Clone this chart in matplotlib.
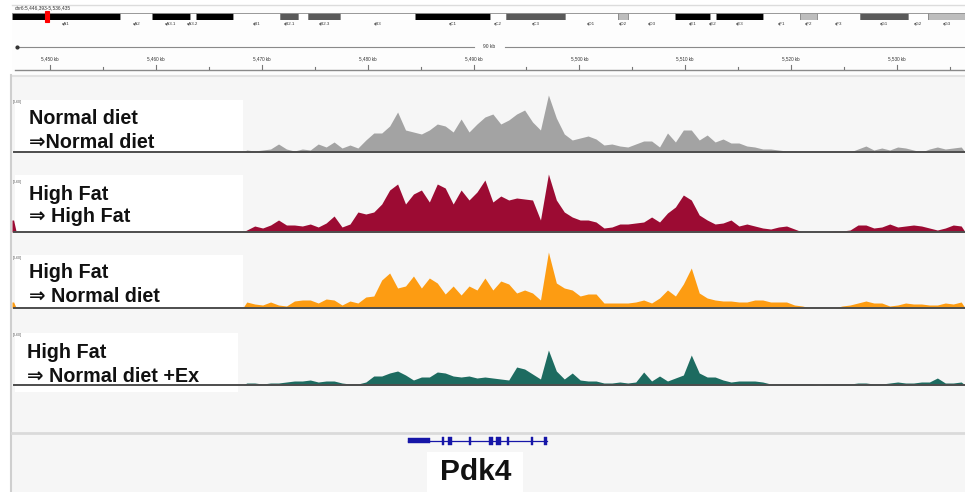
import numpy as np
import matplotlib
matplotlib.use("Agg")
import matplotlib.pyplot as plt
from matplotlib.patches import Rectangle

plt.rcParams['font.family'] = ['Liberation Sans', 'DejaVu Sans']

W, H = 965, 492

# locus on chr6 (kb) and chromosome length (Mb)
chrom = "chr6"
view_start = 5446.393
view_end = 5536.435
chrom_len = 149.6

# ideogram bands: name, start (Mb), end (Mb), stain
band_names = ["qA1", "qA2", "qA3.1", "qA3.2", "", "qB1", "qB2.1", "", "qB2.3", "qB3",
              "qC1", "qC2", "qC3", "qD1", "qD2", "qD3", "qE1", "qE2", "qE3", "qF1",
              "qF2", "qF3", "qG1", "qG2", "qG3"]
band_starts = [0.0, 17.0, 22.0, 27.9, 28.9, 34.7, 42.1, 44.9, 46.5, 51.5,
               63.3, 75.0, 77.6, 86.8, 95.1, 96.7, 104.1, 109.6, 110.5, 117.9,
               123.7, 126.4, 133.1, 140.7, 143.8]
band_ends = band_starts[1:] + [chrom_len]
band_stains = ["gpos100", "gneg", "gpos100", "gneg", "gpos100", "gneg", "gpos75", "gneg", "gpos75", "gneg",
               "gpos100", "gneg", "gpos75", "gneg", "gpos33", "gneg", "gpos100", "gneg", "gpos100", "gneg",
               "gpos33", "gneg", "gpos75", "gneg", "gpos33"]

# coverage bins (kb)
bin_start = 5468.2
bin_size = 0.75

normal_normal = [2, 1, 2, 3, 8, 3, 1, 3, 2, 8,
                 5, 10, 4, 7, 4, 12, 19, 19, 26, 40,
                 22, 20, 18, 22, 28, 26, 20, 33, 20, 28,
                 35, 38, 28, 32, 38, 42, 30, 22, 57, 34,
                 18, 12, 14, 16, 13, 7, 8, 6, 5, 8,
                 11, 11, 5, 19, 10, 22, 22, 12, 17, 10,
                 13, 9, 9, 6, 5, 3, 3, 2, 1, 1,
                 0, 0, 0, 0, 0, 0, 0, 3, 6, 2,
                 4, 2, 5, 4, 2, 0, 3, 5, 3, 4,
                 5]
hf_hf = [2, 6, 4, 7, 12, 7, 7, 6, 8, 5,
         9, 16, 5, 8, 20, 18, 20, 28, 42, 48,
         28, 38, 42, 30, 48, 44, 28, 42, 32, 40,
         52, 30, 36, 32, 34, 33, 32, 12, 58, 32,
         20, 15, 12, 12, 10, 4, 5, 8, 8, 9,
         10, 15, 10, 19, 25, 37, 32, 17, 12, 8,
         9, 12, 6, 8, 6, 4, 3, 5, 6, 3,
         0, 0, 0, 0, 1, 1, 2, 7, 7, 4,
         5, 8, 5, 6, 7, 6, 4, 2, 4, 7,
         6]
hf_normal = [6, 4, 3, 6, 3, 2, 7, 8, 8, 5,
             9, 8, 3, 7, 5, 11, 12, 28, 35, 20,
             22, 32, 20, 30, 25, 14, 22, 13, 22, 18,
             30, 18, 27, 24, 15, 18, 15, 8, 56, 25,
             20, 18, 12, 14, 14, 5, 5, 5, 5, 6,
             8, 5, 10, 18, 12, 24, 40, 15, 10, 8,
             7, 7, 6, 6, 8, 8, 6, 6, 6, 3,
             2, 0, 0, 0, 0, 2, 3, 5, 7, 5,
             5, 2, 3, 5, 4, 4, 3, 3, 5, 4,
             6]
hf_normal_ex = [2, 2, 1, 2, 2, 3, 4, 4, 5, 3,
                4, 4, 2, 1, 1, 3, 9, 9, 12, 14,
                10, 5, 8, 8, 13, 12, 9, 8, 9, 7,
                8, 7, 6, 5, 18, 16, 11, 6, 35, 14,
                6, 12, 5, 4, 4, 2, 2, 3, 2, 3,
                13, 4, 9, 4, 7, 10, 30, 12, 8, 8,
                5, 3, 4, 4, 4, 3, 1, 1, 1, 1,
                1, 1, 0, 1, 1, 1, 1, 2, 2, 1,
                1, 2, 3, 2, 2, 3, 3, 7, 2, 2,
                3]
# small signal right at the left border of the view
edge_values = [0, 12, 6, 0]

tracks = [normal_normal, hf_hf, hf_normal, hf_normal_ex]
track_labels = [("Normal diet", "\u21d2Normal diet"),
                ("High Fat", "\u21d2 High Fat"),
                ("High Fat", "\u21d2 Normal diet"),
                ("High Fat", "\u21d2 Normal diet +Ex")]
track_colors = ["#a3a3a3", "#9c0b33", "#fd9c12", "#1d6b60"]
data_range = 60

# Pdk4 gene model (kb)
gene_name = "Pdk4"
gene_start = 5483.81
gene_end = 5496.94
exon_starts = [5483.81, 5487.05, 5487.55, 5489.60, 5491.50, 5492.15, 5493.18, 5495.45, 5496.65]
exon_ends = [5485.89, 5487.20, 5487.98, 5489.75, 5491.85, 5492.55, 5493.33, 5495.60, 5496.94]


def box(x0, y0, x1, y1):
    # pixel box -> figure fraction
    return [x0 / W, 1 - y1 / H, (x1 - x0) / W, (y1 - y0) / H]


fig = plt.figure(figsize=(W / 100, H / 100), dpi=100)

# background canvas in pixel units
bg = fig.add_axes([0, 0, 1, 1], zorder=0)
bg.set_xlim(0, W)
bg.set_ylim(H, 0)
bg.axis('off')
bg.add_patch(Rectangle((12, 5), W - 12, 70, facecolor='#fdfdfd', edgecolor='none'))
bg.add_patch(Rectangle((12, 75), W - 12, H - 75, facecolor='#f6f6f6', edgecolor='none'))
bg.plot([12, W], [5, 5], color='#dcdcdc', lw=1)
bg.plot([15, W], [70, 70], color='#8a8a8a', lw=1)
bg.plot([12, W], [76, 76], color='#e2e2e2', lw=1.5)
bg.plot([11, 11], [75, H], color='#cfcfcf', lw=1.5)
bg.plot([12, W], [433, 433], color='#dadada', lw=2)
bg.text(15, 8, f"{chrom}:{view_start * 1000:,.0f}-{view_end * 1000:,.0f}",
        fontsize=3.5, color='#333333', va='center')

# label boxes for the tracks
ov = fig.add_axes([0, 0, 1, 1], zorder=1)
ov.set_xlim(0, W)
ov.set_ylim(H, 0)
ov.axis('off')
ov.patch.set_alpha(0)
label_boxes = [(15, 100, 243, 152), (15, 175, 243, 232), (15, 255, 243, 308), (15, 333, 238, 392)]
label_y = [(119, 143), (195, 217), (273, 297), (352, 377)]
label_x = [29, 29, 29, 27]
for (x0, y0, x1, y1), (ya, yb), lx, (l1, l2) in zip(label_boxes, label_y, label_x, track_labels):
    ov.add_patch(Rectangle((x0, y0), x1 - x0, y1 - y0, facecolor='white', edgecolor='none'))
    ov.text(lx, ya, l1, fontsize=14.2, fontweight='bold', va='center', color='#111111')
    ov.text(lx, yb, l2, fontsize=14.2, fontweight='bold', va='center', color='#111111')

# ideogram
ideo = fig.add_axes(box(12, 13, W, 20), zorder=2)
ideo.set_xlim(0, chrom_len)
ideo.set_ylim(0, 1)
ideo.axis('off')
stain_colors = {"gpos100": "#000000", "gpos75": "#5a5a5a", "gpos33": "#bdbdbd", "gneg": "#ffffff"}
for name, s, e, st in zip(band_names, band_starts, band_ends, band_stains):
    ideo.add_patch(Rectangle((s, 0), e - s, 1, facecolor=stain_colors[st],
                             edgecolor='#8a8a8a', lw=0.6))
    if name:
        ideo.text((s + e) / 2, -0.6, name, fontsize=3.2, color='#333333',
                  ha='center', va='center', clip_on=False)
view_mid_mb = (view_start + view_end) / 2000
ideo.add_patch(Rectangle((view_mid_mb - 0.25, -0.3), 0.5, 1.6, facecolor='#ff0000',
                         edgecolor='#ff0000', lw=0.8, clip_on=False))

# ruler
ruler = fig.add_axes(box(12, 40, W, 70), zorder=2)
ruler.set_xlim(view_start, view_end)
ruler.set_ylim(0, 30)
ruler.axis('off')
span_kb = view_end - view_start
mid_kb = (view_start + view_end) / 2
ruler.plot([view_start + 0.45, mid_kb - 1.4], [23, 23], color='#8a8a8a', lw=0.8)
ruler.plot([mid_kb + 1.6, view_end], [23, 23], color='#8a8a8a', lw=0.8)
ruler.plot([view_start + 0.45], [23], 'o', color='#333333', ms=2)
ruler.text(mid_kb + 0.1, 23, f"{span_kb:.0f} kb", fontsize=3.5, color='#333333',
           ha='center', va='center')
first_tick = np.ceil(view_start / 10) * 10
for k in np.arange(first_tick, view_end, 10):
    ruler.plot([k, k], [0, 5], color='#777777', lw=0.8)
    ruler.text(k, 11, f"{int(k):,} kb", fontsize=3.3, color='#333333', ha='center', va='center')
    if k + 5 < view_end:
        ruler.plot([k + 5, k + 5], [0, 3], color='#777777', lw=0.8)

# coverage tracks
baselines = [152, 232, 308, 385]
track_h = 64
for vals, col, base, edge in zip(tracks, track_colors, baselines, edge_values):
    ax = fig.add_axes(box(12, base - track_h, W, base), zorder=3)
    ax.set_xlim(view_start, view_end)
    ax.set_ylim(0, track_h)
    ax.axis('off')
    ax.patch.set_alpha(0)
    vals = np.asarray(vals, dtype=float)
    centers = bin_start + bin_size * (np.arange(len(vals)) + 0.5)
    xs = np.concatenate([[bin_start], centers, [bin_start + bin_size * len(vals)]])
    ys = np.concatenate([[0], vals, [0]])
    ax.fill_between(xs, 0, ys, color=col, lw=0)
    if edge:
        ax.fill_between([view_start, view_start + 0.15, view_start + 0.4],
                        0, [edge, edge, 0], color=col, lw=0)
    ax.plot([view_start + 0.2, view_end], [0, 0], color='#4d4d4d', lw=1.4, clip_on=False)
    ax.text(view_start + 0.1, 50, f"[0-{data_range}]", fontsize=2.5, color='#555555',
            va='center', clip_on=False)

# gene track
gax = fig.add_axes(box(12, 433, W, H), zorder=2)
gax.set_xlim(view_start, view_end)
gax.set_ylim(H - 433, 0)
gax.axis('off')
gax.patch.set_alpha(0)
gene_col = '#1616a8'
gax.plot([gene_start, gene_end], [7.5, 7.5], color=gene_col, lw=0.9)
for i, (s, e) in enumerate(zip(exon_starts, exon_ends)):
    h = 5 if i == 0 else 8
    gax.add_patch(Rectangle((s, 7.5 - h / 2), e - s, h, facecolor=gene_col, edgecolor=gene_col, lw=0.3))
gene_mid = (gene_start + gene_end) / 2
gax.add_patch(Rectangle((gene_mid - 4.8, 19), 9.1, 45, facecolor='white', edgecolor='none',
                        clip_on=False))
gax.text(gene_mid - 0.2, 38.5, gene_name, fontsize=21.5, fontweight='bold', color='#111111',
         ha='center', va='center')

fig.savefig('out.png', dpi=100)
